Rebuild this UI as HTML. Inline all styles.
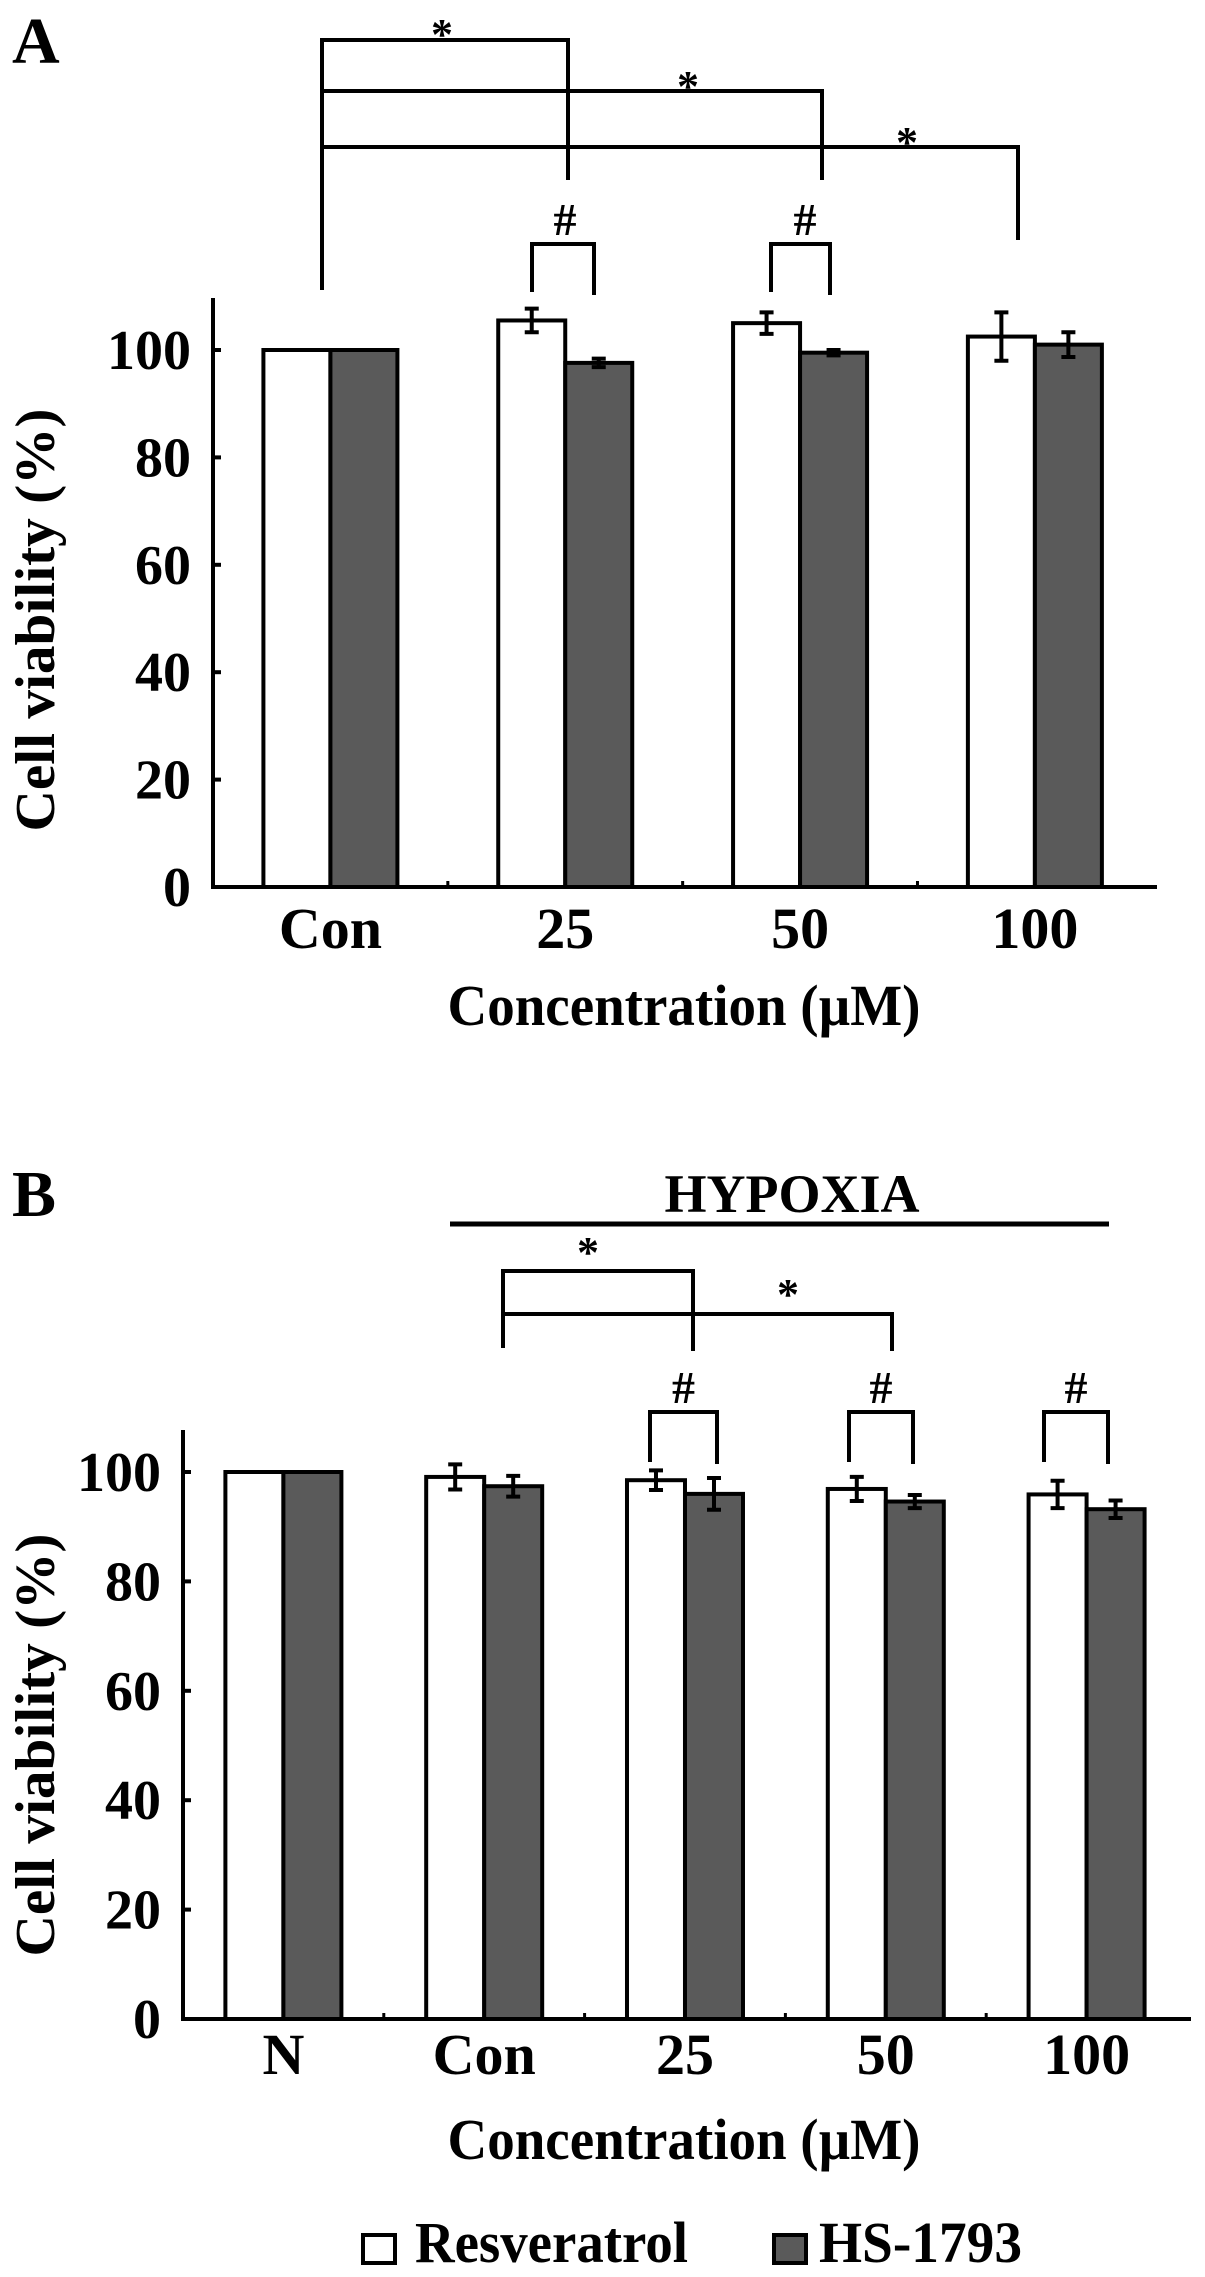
<!DOCTYPE html>
<html><head><meta charset="utf-8"><style>
html,body{margin:0;padding:0;background:#fff;}
svg{display:block;font-family:"Liberation Serif",serif;font-weight:bold;}
</style></head><body>
<svg id="fig" width="1205" height="2277" viewBox="0 0 1205 2277" xmlns="http://www.w3.org/2000/svg"></svg>
<script>
// Panel A data
const catsA = ["Con","25","50","100"];
const resA = [100,105.5,105,102.5];
const resErrA = [0,2.2,2,4.5];
const hsA = [100,97.6,99.5,101];
const hsErrA = [0,0.8,0.5,2.3];
// Panel B data
const catsB = ["N","Con","25","50","100"];
const resB = [100,99.1,98.5,96.9,95.9];
const resErrB = [0,2.3,1.8,2.2,2.5];
const hsB = [100,97.4,96,94.6,93.2];
const hsErrB = [0,1.9,2.9,1.2,1.6];
const yTicks = [0,20,40,60,80,100];

const NS="http://www.w3.org/2000/svg";
const svg=document.getElementById('fig');
function el(tag,attrs,parent){const e=document.createElementNS(NS,tag);for(const k in attrs)e.setAttribute(k,attrs[k]);(parent||svg).appendChild(e);return e;}
function txt(s,x,y,size,anchor,parent,extra){const t=el('text',Object.assign({x:x,y:y,'font-size':size,'text-anchor':anchor||'middle',fill:'#000'},extra||{}),parent);t.textContent=s;return t;}

function panel(cfg){
  const g=el('g',{});
  
  
  const yS=v=>cfg.y0-(v/100)*(cfg.y0-cfg.y100);
  const n=cfg.cats.length;
  const cw=(cfg.xEnd-cfg.x0)/(n+0.02);
  const cx=i=>cfg.x0+cw*(i+0.5);
  const ya=el('line',{x1:cfg.x0,y1:cfg.yTop,x2:cfg.x0,y2:cfg.y0+2,stroke:'#000','stroke-width':4},g);
  
  
  yTicks.forEach(v=>{
    el('line',{x1:cfg.x0,y1:yS(v),x2:cfg.x0+8,y2:yS(v),stroke:'#000','stroke-width':4},g);
    const t=txt(String(v),cfg.x0-22,yS(v)+19,56,'end',g);
    
    
  });
  const xa=el('line',{x1:cfg.x0-2,y1:cfg.y0,x2:cfg.xEnd,y2:cfg.y0,stroke:'#000','stroke-width':4},g);
  
  
  for(let i=1;i<n;i++){el('line',{x1:cfg.x0+cw*i,y1:cfg.y0,x2:cfg.x0+cw*i,y2:cfg.y0-6,stroke:'#000','stroke-width':3},g);}
  const bw=cfg.bw;
  cfg.cats.forEach((c,i)=>{
    const c0=cx(i);
    const r=el('rect',{x:c0-bw,y:yS(cfg.res[i]),width:bw,height:cfg.y0-yS(cfg.res[i]),fill:'#fff',stroke:'#000','stroke-width':4},g);
    
    
    const h=el('rect',{x:c0,y:yS(cfg.hs[i]),width:bw,height:cfg.y0-yS(cfg.hs[i]),fill:'#5a5a5a',stroke:'#000','stroke-width':4},g);
    
    
    [[c0-bw/2,cfg.res[i],cfg.resErr[i]],[c0+bw/2,cfg.hs[i],cfg.hsErr[i]]].forEach(([x,v,e])=>{
      if(!e)return;
      const eb=el('path',{d:`M${x},${yS(v+e)}V${yS(v-e)}M${x-7},${yS(v+e)}H${x+7}M${x-7},${yS(v-e)}H${x+7}`,stroke:'#000','stroke-width':4,fill:'none'},g);
      
      
    });
    const l=txt(c,c0,cfg.catY,58,'middle',g);
    
    
  });
  const xt=txt('Concentration (\u00b5M)',684,cfg.titleY,58,'middle',g,{textLength:473,lengthAdjust:'spacingAndGlyphs'});
  
  
  const yt=txt('Cell viability (%)',0,0,56,'middle',g,{textLength:423,lengthAdjust:'spacingAndGlyphs',transform:`translate(54,${cfg.yLabC}) rotate(-90)`});
  
  
  const pl=txt(cfg.letter,12,cfg.letterY,66,'start',g);
  
  
  return g;
}
function line(d,w,name){const p=el('path',{d:d,stroke:'#000','stroke-width':w||4,fill:'none'});return p;}
function mark(s,x,y,size,name){const t=txt(s,x,y,size||44,'middle');return t;}

panel({name:'panel-a',letter:'A',letterY:63,cats:catsA,res:resA,resErr:resErrA,hs:hsA,hsErr:hsErrA,
  x0:213,xEnd:1157,y0:887,y100:350,yTop:298,bw:67,catY:948,titleY:1025,yLabC:620});
panel({name:'panel-b',letter:'B',letterY:1216,cats:catsB,res:resB,resErr:resErrB,hs:hsB,hsErr:hsErrB,
  x0:183,xEnd:1191,y0:2019,y100:1472,yTop:1430,bw:58,catY:2074,titleY:2159,yLabC:1745});

// Panel A significance brackets
line('M322,290V40H568V180','4','sig-bracket-con-25');
line('M322,91H822V180','4','sig-bracket-con-50');
line('M322,147H1018V240','4','sig-bracket-con-100');
mark('*',442,49,44,'sig-star');
mark('*',688,101,44,'sig-star');
mark('*',907,157,44,'sig-star');
line('M532,292V244H594V295','4','hash-bracket-25');
line('M771,292V244H830V295','4','hash-bracket-50');
mark('#',565,235,46,'hash-mark');
mark('#',805,235,46,'hash-mark');

// Panel B
const hx=txt('HYPOXIA',792,1212,54,'middle');


line('M450,1224H1109','5','hypoxia-line');
line('M503,1348V1271H693V1351','4','sig-bracket-con-25-b');
line('M503,1314H892V1351','4','sig-bracket-con-50-b');
mark('*',588,1267,44,'sig-star');
mark('*',788,1309,44,'sig-star');
[[650,717],[849,913],[1044,1108]].forEach(([a,b])=>{
  line(`M${a},1462V1412H${b}V1464`,'4','hash-bracket-b');
  mark('#',(a+b)/2,1403,46,'hash-mark');
});

// Legend
const lg=el('g',{});


const s1=el('rect',{x:363,y:2235,width:32,height:28,fill:'#fff',stroke:'#000','stroke-width':4},lg);


const t1=txt('Resveratrol',415,2262,58,'start',lg,{textLength:273,lengthAdjust:'spacingAndGlyphs'});


const s2=el('rect',{x:774,y:2235,width:32,height:28,fill:'#5a5a5a',stroke:'#000','stroke-width':4},lg);


const t2=txt('HS-1793',819,2262,58,'start',lg,{textLength:203,lengthAdjust:'spacingAndGlyphs'});


</script>
</body></html>
